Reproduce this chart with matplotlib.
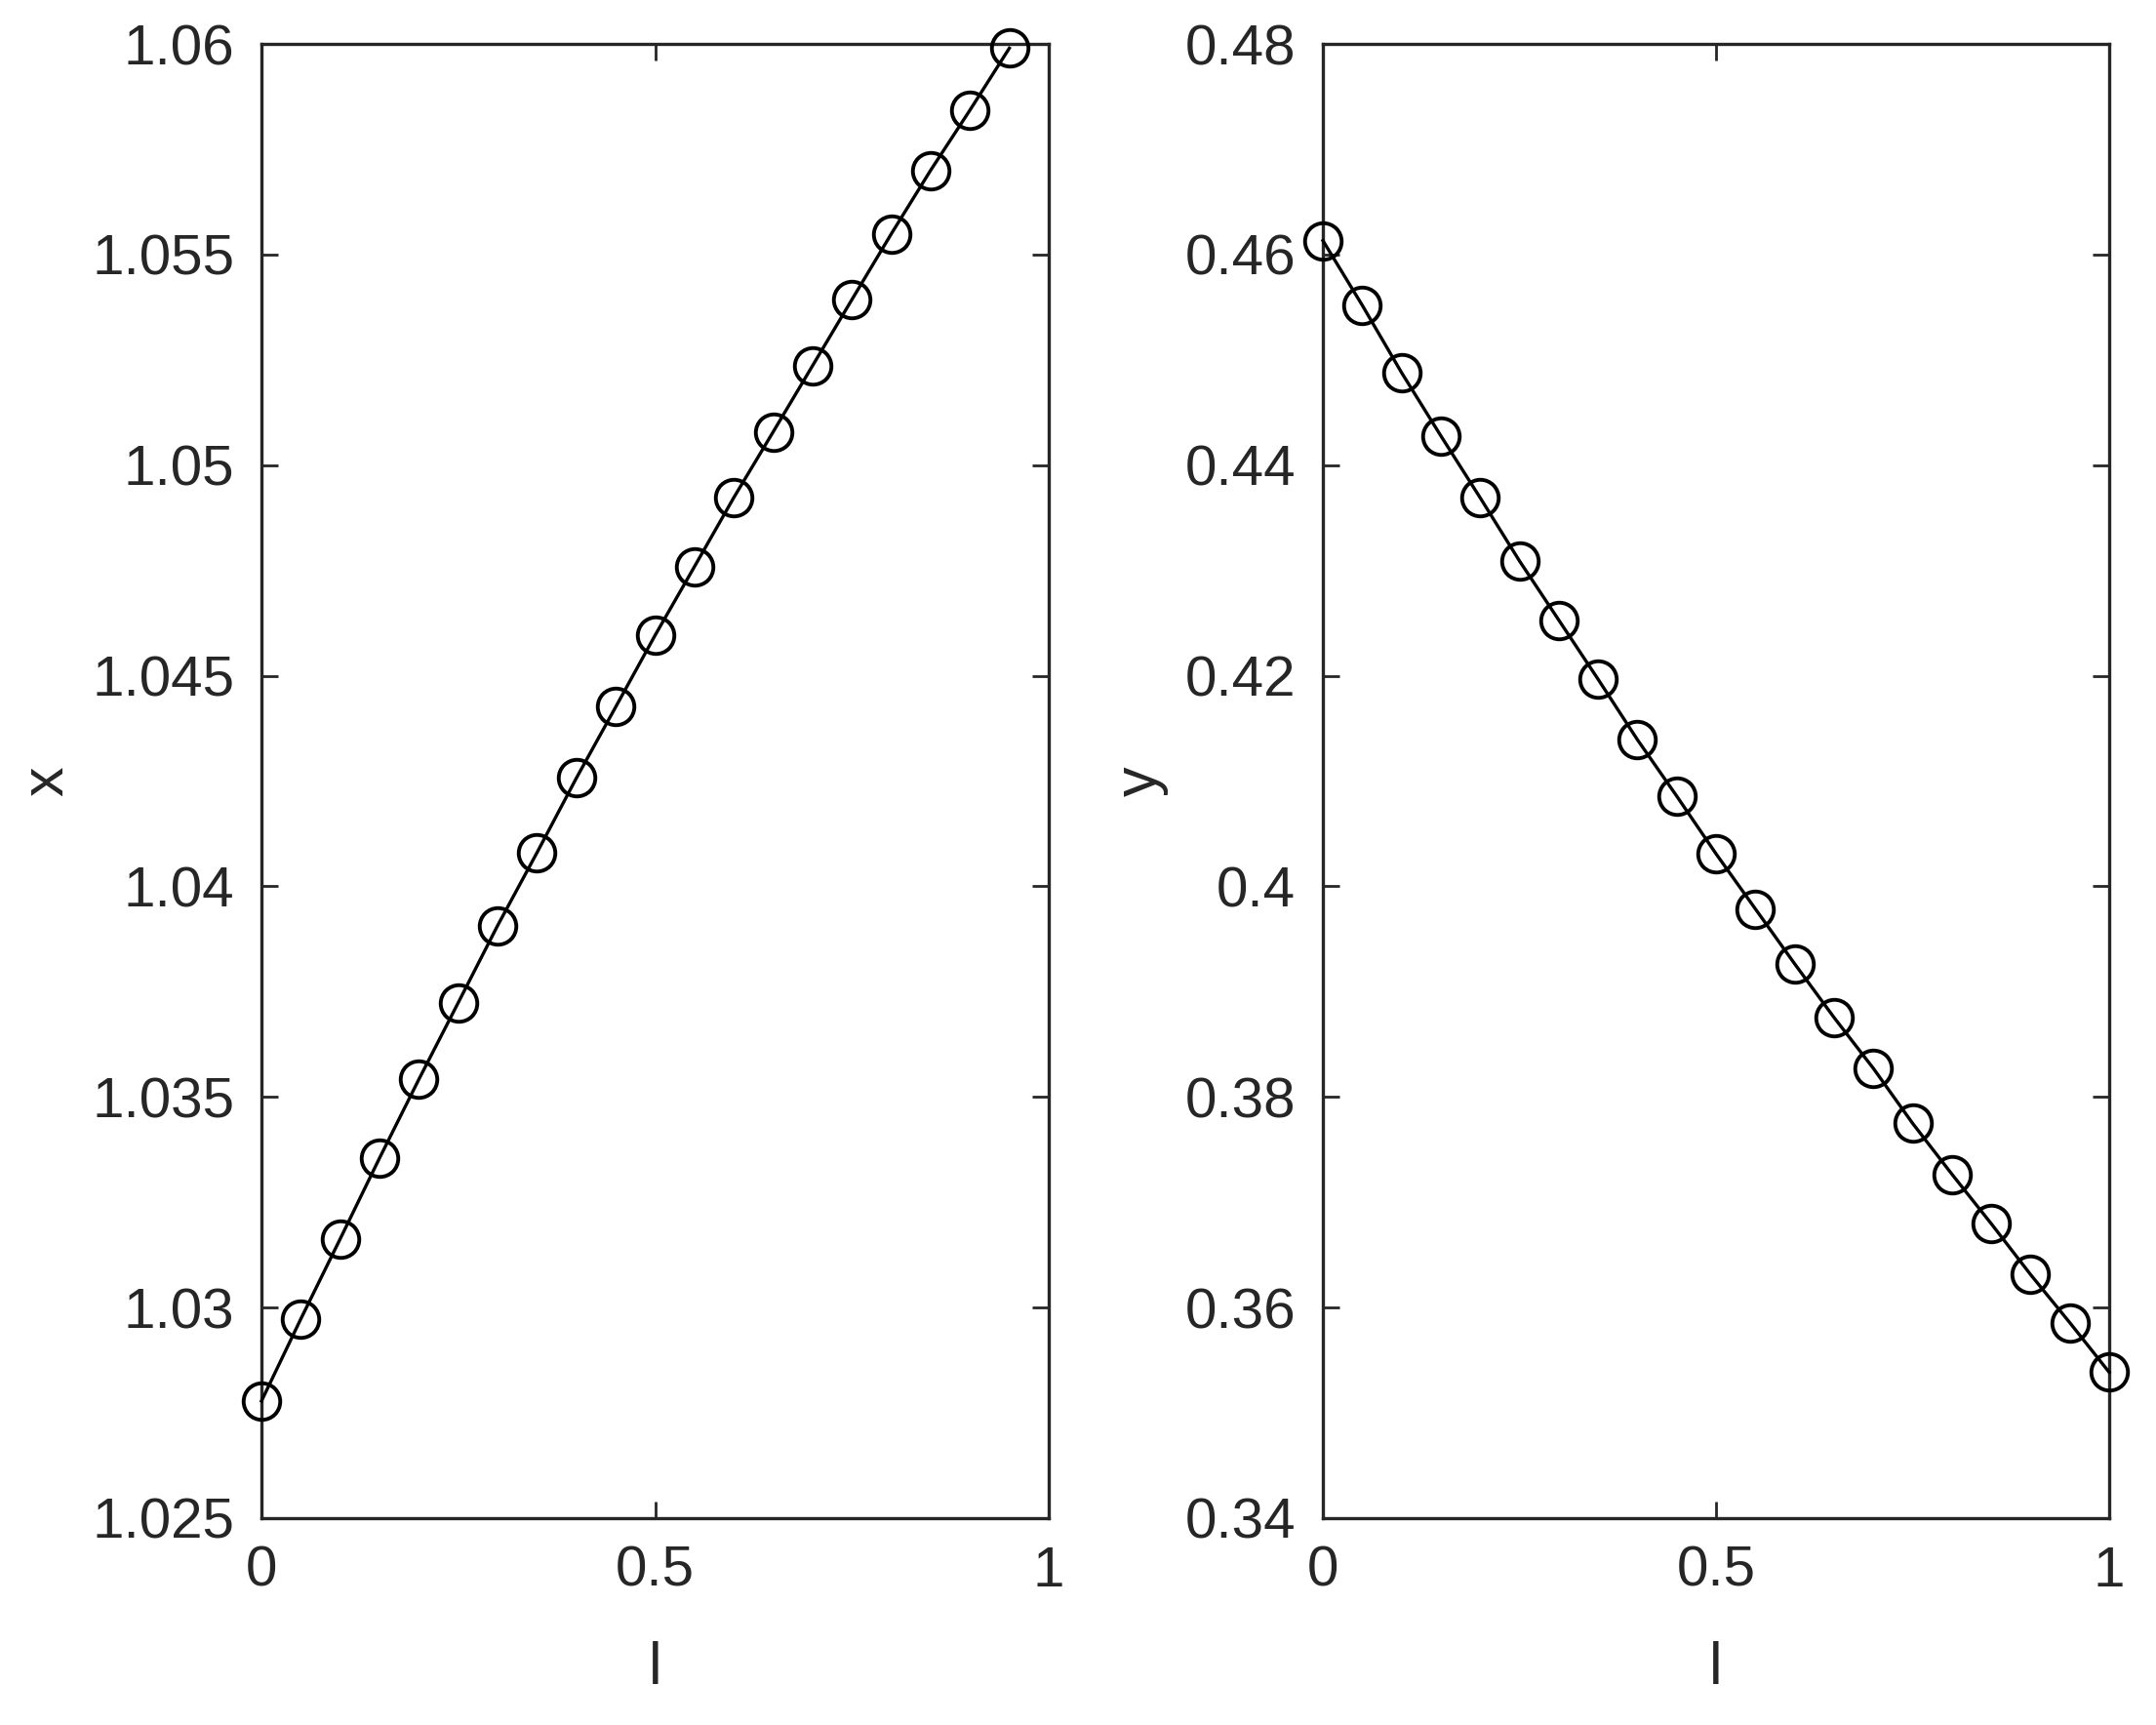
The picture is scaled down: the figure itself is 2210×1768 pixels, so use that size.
import numpy as np
import matplotlib.pyplot as plt
from matplotlib import font_manager

l_left = [0, 0.05, 0.1, 0.15, 0.2, 0.25, 0.3, 0.35, 0.4, 0.45,
          0.5, 0.55, 0.6, 0.65, 0.7, 0.75, 0.8, 0.85, 0.9, 0.95]
x_vals = [1.02778, 1.02973, 1.03163, 1.03355, 1.03542, 1.03724, 1.03907, 1.04080,
          1.04257, 1.04426, 1.04596, 1.04759, 1.04923, 1.05079, 1.05236, 1.05393,
          1.05549, 1.05700, 1.05843, 1.05990]

l_right = [0, 0.05, 0.1, 0.15, 0.2, 0.25, 0.3, 0.35, 0.4, 0.45, 0.5,
           0.55, 0.6, 0.65, 0.7, 0.75, 0.8, 0.85, 0.9, 0.95, 1.0]
y_vals = [0.46132, 0.45519, 0.44879, 0.44278, 0.43690, 0.43090, 0.42528, 0.41966,
          0.41392, 0.40856, 0.40308, 0.39785, 0.39263, 0.38754, 0.38271, 0.37748,
          0.37265, 0.36795, 0.36312, 0.35854, 0.35384]

x_ticks = [0, 0.5, 1]
x_ticklabels = ['0', '0.5', '1']
left_yticks = [1.025, 1.03, 1.035, 1.04, 1.045, 1.05, 1.055, 1.06]
left_yticklabels = ['1.025', '1.03', '1.035', '1.04', '1.045', '1.05', '1.055', '1.06']
right_yticks = [0.34, 0.36, 0.38, 0.40, 0.42, 0.44, 0.46, 0.48]
right_yticklabels = ['0.34', '0.36', '0.38', '0.4', '0.42', '0.44', '0.46', '0.48']

names = {f.name for f in font_manager.fontManager.ttflist}
fam = 'Liberation Sans Narrow' if 'Liberation Sans Narrow' in names else 'Liberation Sans'
plt.rcParams['font.family'] = [fam, 'DejaVu Sans']

dark = '#262626'
fig = plt.figure(figsize=(11.05, 8.84), dpi=200)
ax1 = fig.add_axes([0.1213, 0.12, 0.3651, 0.8545])
ax2 = fig.add_axes([0.6136, 0.12, 0.3647, 0.8545])

panels = [
    (ax1, l_left, x_vals, (1.025, 1.06), left_yticks, left_yticklabels, 'x'),
    (ax2, l_right, y_vals, (0.34, 0.48), right_yticks, right_yticklabels, 'y'),
]
for ax, lx, vals, ylim, yt, ytl, lab in panels:
    ax.plot(lx, vals, '-o', color='black', linewidth=1.2, markersize=13.5,
            markerfacecolor='none', markeredgewidth=1.4, clip_on=False, zorder=3)
    ax.set_xlim(0, 1)
    ax.set_ylim(*ylim)
    ax.set_xticks(x_ticks)
    ax.set_xticklabels(x_ticklabels)
    ax.set_yticks(yt)
    ax.set_yticklabels(ytl)
    ax.tick_params(direction='in', length=6, width=1.0, colors=dark, labelsize=21,
                   top=True, right=True, pad=10)
    for s in ax.spines.values():
        s.set_color(dark)
        s.set_linewidth(1.2)
    ax.set_xlabel('l', fontsize=22, color=dark, labelpad=16)
    ax.set_ylabel(lab, fontsize=22, color=dark, labelpad=6)

fig.savefig('out.png', dpi=200)
